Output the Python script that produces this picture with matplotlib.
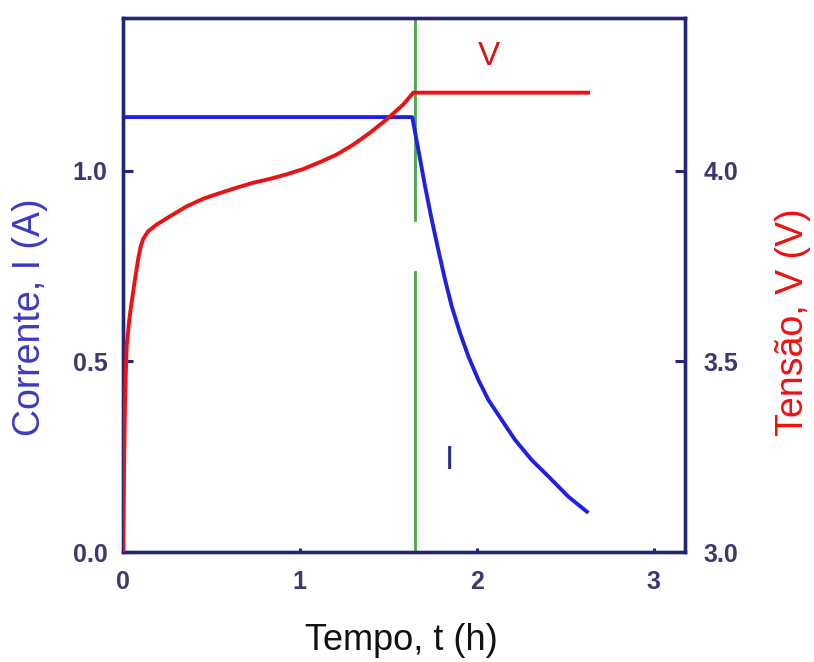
import matplotlib
matplotlib.use("Agg")
import matplotlib.pyplot as plt
import numpy as np

plt.rcParams['font.family'] = ['Liberation Sans', 'DejaVu Sans']

# current (A) vs time (h)
t_cur = [0.0, 1.635, 1.642, 1.670, 1.708, 1.746, 1.783, 1.821, 1.859, 1.906, 1.953,
         2.010, 2.066, 2.142, 2.217, 2.312, 2.406, 2.519, 2.623]
corrente = [1.14, 1.14, 1.125, 1.055, 0.959, 0.871, 0.792, 0.714, 0.644, 0.574, 0.513,
            0.451, 0.399, 0.346, 0.294, 0.241, 0.198, 0.145, 0.106]

# voltage (V) vs time (h)
t_vol = [0.0, 0.004, 0.008, 0.012, 0.021, 0.036, 0.049, 0.068, 0.087, 0.100, 0.115,
         0.143, 0.190, 0.266, 0.360, 0.454, 0.549, 0.643, 0.737, 0.831, 0.926,
         1.020, 1.114, 1.209, 1.303, 1.397, 1.491, 1.585, 1.642, 2.63]
tensao = [3.0, 3.14, 3.27, 3.40, 3.539, 3.609, 3.654, 3.714, 3.770, 3.800, 3.821,
          3.841, 3.858, 3.880, 3.906, 3.926, 3.941, 3.955, 3.968, 3.978, 3.990,
          4.004, 4.022, 4.042, 4.068, 4.099, 4.134, 4.173, 4.204, 4.204]

t_switch = 1.652
gap = (0.735, 0.871)

navy = '#24247a'
tick_col = '#3a3a6e'
blue = '#2020e0'
label_blue = '#3a3ac4'
red = '#ee1111'
green = '#44a844'

fig = plt.figure(figsize=(8.14, 6.62), dpi=100)
ax = fig.add_axes([0.151, 0.166, 0.691, 0.807])
ax2 = ax.twinx()

ax.plot(t_cur, corrente, color=blue, lw=2.8, zorder=3, solid_joinstyle='round')
ax2.plot(t_vol, tensao, color=red, lw=2.8, zorder=3, solid_joinstyle='round')

# green transition line with a gap
ax.plot([t_switch, t_switch], [0, gap[0]], color=green, lw=2, zorder=2)
ax.plot([t_switch, t_switch], [gap[1], 1.4], color=green, lw=2, zorder=2)

ax.set_xlim(0, 3.18)
ax.set_ylim(0, 1.4)
ax2.set_ylim(3.0, 4.4)

ax.set_xticks([0, 1, 2, 3])
ax.set_yticks([0.0, 0.5, 1.0])
ax.set_yticklabels(['0.0', '0.5', '1.0'])
ax2.set_yticks([3.0, 3.5, 4.0])
ax2.set_yticklabels(['3.0', '3.5', '4.0'])

for a in (ax, ax2):
    for s in a.spines.values():
        s.set_color(navy)
        s.set_linewidth(2.4)
    a.tick_params(direction='in', length=7, width=2.2, color=navy,
                  labelsize=18, labelcolor=tick_col)
ax.tick_params(axis='x', length=3, pad=13)
ax.tick_params(axis='y', pad=11)
ax2.tick_params(axis='y', pad=13)
for lab in ax.get_xticklabels() + ax.get_yticklabels() + ax2.get_yticklabels():
    lab.set_fontweight('bold')

ax.set_xlabel('Tempo, t (h)', fontsize=26, color='#111111')
ax.set_ylabel('Corrente, I (A)', fontsize=27, color=label_blue)
ax2.set_ylabel('Tensão, V (V)', fontsize=27, color=red)
ax.xaxis.set_label_coords(0.495, -0.132)
ax.yaxis.set_label_coords(-0.133, 0.44)
ax2.yaxis.set_label_coords(1.160, 0.43)

ax.text(2.07, 1.30, 'V', color='#dd1111', fontsize=24, ha='center', va='center')
ax.text(1.844, 0.241, 'I', color='#2a2a8a', fontsize=24, ha='center', va='center')

fig.savefig('out.png', dpi=100)
